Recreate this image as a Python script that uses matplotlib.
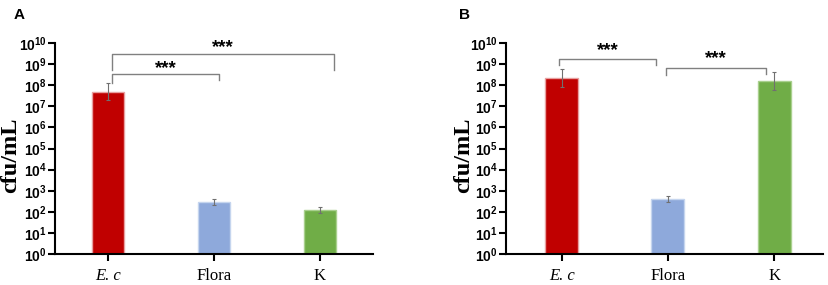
import matplotlib
matplotlib.use("Agg")
import matplotlib.pyplot as plt
import numpy as np

plt.rcParams["mathtext.fontset"] = "custom"
plt.rcParams["mathtext.rm"] = "Liberation Sans:bold"
plt.rcParams["mathtext.bf"] = "Liberation Sans:bold"
plt.rcParams["mathtext.it"] = "Liberation Sans:bold"

# ---- data (cfu/mL) ----
categories = ["E. c", "Flora", "K"]
colors = ["#C00000", "#8EA9DB", "#70AD47"]
edge_colors = ["#E8A0A0", "#C5D5EE", "#A9D08E"]

a_values = [4.8e7, 290, 120]
a_err_low = [1.9e7, 220, 90]
a_err_high = [1.3e8, 400, 160]

b_values = [2.3e8, 400, 1.5e8]
b_err_low = [8.3e7, 290, 5.8e7]
b_err_high = [6.0e8, 560, 4.3e8]

yticks = [10.0 ** k for k in range(0, 11)]
ytick_labels = [r"$\mathbf{10^{%d}}$" % k for k in range(0, 11)]

W, H = 829, 285
fig = plt.figure(figsize=(W / 100, H / 100), dpi=100)


def make_panel(rect, xlim, values, lo, hi, letter, letter_xy, label_x):
    ax = fig.add_axes(rect)
    x = np.arange(len(categories))
    ax.bar(x, values, width=0.31, color=colors, edgecolor=edge_colors, linewidth=1, zorder=2)
    yerr = [np.array(values) - np.array(lo), np.array(hi) - np.array(values)]
    ax.errorbar(x, values, yerr=yerr, fmt="none", ecolor="#707070", elinewidth=0.8,
                capsize=1.5, capthick=0.8, zorder=3)
    ax.set_yscale("log")
    ax.set_ylim(1, 1e10)
    ax.set_xlim(*xlim)
    ax.set_yticks(yticks)
    ax.set_yticklabels(ytick_labels, fontsize=10)
    ax.minorticks_off()
    ax.set_xticks(x)
    ax.set_xticklabels([])
    for xi, c in zip(x, categories):
        ax.text(xi, -0.065, c, transform=ax.get_xaxis_transform(), ha="center", va="top",
                family="Liberation Serif", fontsize=12,
                style="italic" if c == "E. c" else "normal")
    for s in ("top", "right"):
        ax.spines[s].set_visible(False)
    for s in ("left", "bottom"):
        ax.spines[s].set_linewidth(1.5)
    ax.tick_params(axis="both", direction="out", length=5, width=1.5, pad=1)
    ax.set_ylabel("cfu/mL", family="Liberation Serif", fontweight="bold", fontsize=17.5)
    ax.yaxis.set_label_coords(label_x, 0.47)
    fig.text(letter_xy[0] / W, 1 - letter_xy[1] / H, letter, fontsize=11, fontweight="bold",
             family="Liberation Sans", ha="center", va="center")
    return ax


def bracket(ax, x1, x2, y_h, y1, y2, star_y):
    ax.plot([x1, x1, x2, x2], [10 ** y1, 10 ** y_h, 10 ** y_h, 10 ** y2], color="#808080",
            lw=1.0, solid_joinstyle="round", clip_on=False, zorder=4)
    ax.text((x1 + x2) / 2, 10 ** star_y, "***", ha="center", va="center", fontsize=13.5,
            fontweight="bold", family="Liberation Sans", clip_on=False)


ax_a = make_panel([55 / W, 1 - 254 / H, (373 - 55) / W, (254 - 43) / H], (-0.5, 2.5),
                  a_values, a_err_low, a_err_high, "A", (19, 15), -0.108)
bracket(ax_a, 0.04, 1.05, 8.52, 8.1, 8.25, 8.80)
bracket(ax_a, 0.04, 2.13, 9.46, 8.72, 8.72, 9.80)

ax_b = make_panel([506 / W, 1 - 254 / H, (823 - 506) / W, (254 - 43) / H], (-0.525, 2.46),
                  b_values, b_err_low, b_err_high, "B", (465, 15), -0.102)
bracket(ax_b, -0.03, 0.89, 9.24, 8.96, 8.96, 9.62)
bracket(ax_b, 0.98, 1.92, 8.82, 8.48, 8.53, 9.25)

fig.savefig("out.png", dpi=100)
